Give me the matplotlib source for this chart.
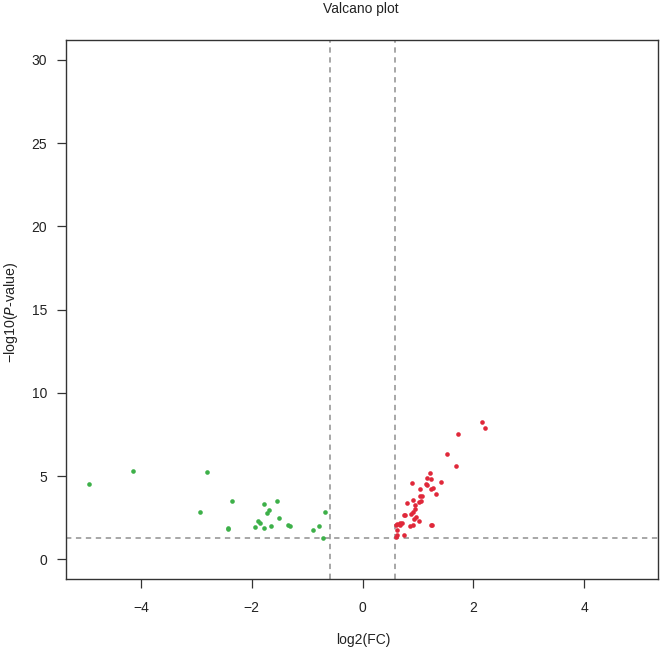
import matplotlib
matplotlib.use("Agg")
import matplotlib.pyplot as plt

plt.rcParams['font.family'] = ['Liberation Sans', 'DejaVu Sans']

# Down-regulated (green)
down_fc = [-4.94, -4.14, -2.81, -2.93, -2.36, -2.43, -2.42, -1.94, -1.78, -1.55,
           -1.68, -1.72, -1.88, -1.85, -1.78, -1.65, -1.51, -1.34, -1.31, -0.89,
           -0.79, -0.68, -0.71]
down_p = [4.53, 5.31, 5.25, 2.83, 3.49, 1.82, 1.90, 1.94, 3.33, 3.51,
          2.95, 2.81, 2.31, 2.21, 1.86, 2.02, 2.47, 2.06, 2.02, 1.76,
          2.02, 2.83, 1.31]

# Up-regulated (red)
up_fc = [2.15, 2.20, 1.72, 1.53, 1.68, 1.21, 0.89, 1.16, 1.24, 1.42,
         1.14, 1.17, 1.27, 1.23, 1.03, 1.33, 1.03, 1.07, 0.91, 1.06,
         1.01, 0.81, 0.94, 0.95, 0.77, 0.75, 0.91, 0.88, 0.97, 0.93,
         1.01, 0.72, 0.68, 0.63, 0.61, 0.67, 0.91, 0.86, 1.23, 1.25,
         0.63, 0.74, 0.63, 0.61]
up_p = [8.26, 7.88, 7.56, 6.33, 5.59, 5.19, 4.61, 4.87, 4.83, 4.63,
        4.51, 4.47, 4.29, 4.23, 4.23, 3.95, 3.79, 3.81, 3.55, 3.51,
        3.43, 3.37, 3.29, 3.05, 2.69, 2.65, 2.83, 2.71, 2.55, 2.45,
        2.31, 2.21, 2.17, 2.15, 2.09, 2.05, 2.07, 1.99, 2.05, 2.07,
        1.79, 1.44, 1.44, 1.32]

fc_cut = 0.585
p_cut = 1.301
x_ticks = [-4, -2, 0, 2, 4]
y_ticks = [0, 5, 10, 15, 20, 25, 30]

fig = plt.figure(figsize=(6.6, 6.48), dpi=100)
ax = fig.add_axes([66/660, 1-579/648, (658-66)/660, (579-40)/648])

ax.axvline(-fc_cut, color='#909090', lw=1.1, ls=(0, (3.5, 3)), zorder=1)
ax.axvline(fc_cut, color='#909090', lw=1.1, ls=(0, (3.5, 3)), zorder=1)
ax.axhline(p_cut, color='#909090', lw=1.1, ls=(0, (3.5, 3)), zorder=1)

ax.scatter(down_fc, down_p, s=11, color='#3DB049', linewidths=0, zorder=3)
ax.scatter(up_fc, up_p, s=11, color='#E0283A', linewidths=0, zorder=3)

ax.set_xlim(-5.35, 5.33)
ax.set_ylim(-1.18, 31.2)
ax.set_xticks(x_ticks)
ax.set_yticks(y_ticks)
ax.set_xticklabels(['\u22124', '\u22122', '0', '2', '4'])
ax.tick_params(direction='out', length=6.5, width=0.9, color='#333333',
               labelsize=10, pad=7, labelcolor='#222222')
ax.tick_params(axis='x', pad=9)
for sp in ax.spines.values():
    sp.set_color('#333333')
    sp.set_linewidth(1.0)

fig.text(363/660, 1-640/648, 'log2(FC)', ha='center', va='center',
         fontsize=10, color='#222222')
fig.text(11/660, 1-312/648, '\u2212log10($\\it{P}$-value)', ha='center', va='center',
         rotation=90, fontsize=10.3, color='#222222')
fig.text(361/660, 1-9/648, 'Valcano plot', ha='center', va='center', fontsize=10, color='#222222')

fig.savefig('out.png', dpi=100)
